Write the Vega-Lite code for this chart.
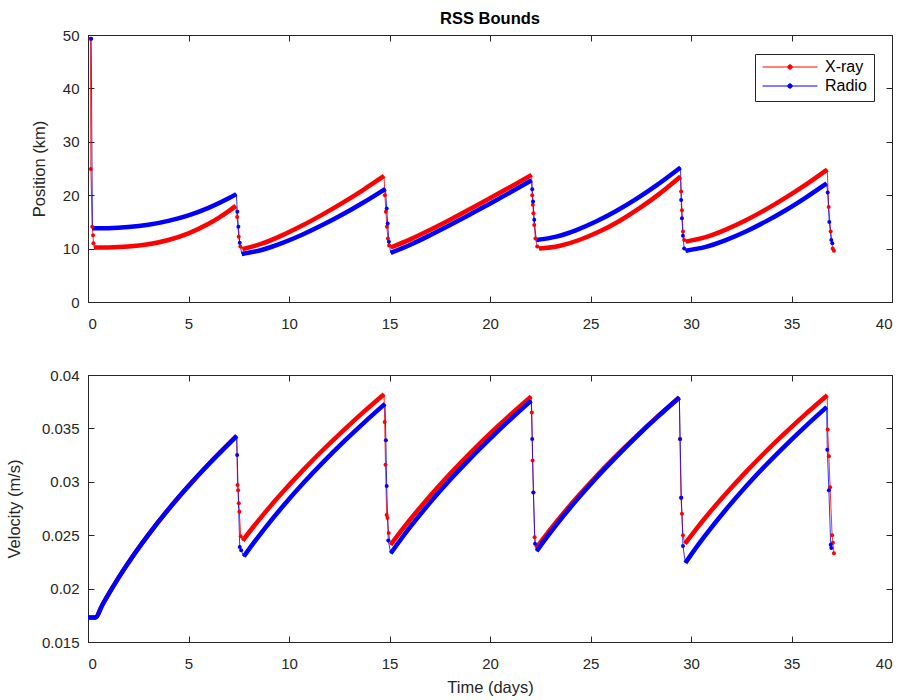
{
  "$schema": "https://vega.github.io/schema/vega-lite/v6.json",
  "padding": {"left": 5, "top": 10, "right": 5, "bottom": 5},
  "spacing": 35,
  "config": {
    "font": "Liberation Sans",
    "view": {"stroke": "#262626", "strokeWidth": 1},
    "axis": {
      "grid": false,
      "domainColor": "#262626",
      "tickColor": "#262626",
      "labelColor": "#262626",
      "titleColor": "#262626",
      "labelFont": "Liberation Sans",
      "titleFont": "Liberation Sans",
      "labelFontSize": 15,
      "titleFontSize": 16.5,
      "titleFontWeight": "normal",
      "tickSize": -6,
      "labelPadding": 15
    },
    "axisX": {"labelPadding": 20, "titlePadding": 8},
    "title": {"font": "Liberation Sans", "fontSize": 16.5, "fontWeight": "bold", "color": "#000000", "frame": "group", "anchor": "middle", "offset": 1}
  },
  "resolve": {"scale": {"color": "independent"}, "legend": {"color": "independent"}},
  "datasets": {
    "position": [
      {"s": "X-ray", "k": "drop", "g": 0, "t": 0.12, "v": 49.3},
      {"s": "X-ray", "k": "drop", "g": 0, "t": 0.14, "v": 24.9},
      {"s": "X-ray", "k": "drop", "g": 0, "t": 0.21, "v": 14.1},
      {"s": "X-ray", "k": "drop", "g": 0, "t": 0.25, "v": 12.5},
      {"s": "X-ray", "k": "drop", "g": 0, "t": 0.27, "v": 11.0},
      {"s": "X-ray", "k": "arc", "g": 1, "t": 0.3, "v": 10.2},
      {"s": "X-ray", "k": "arc", "g": 1, "t": 1, "v": 10.22},
      {"s": "X-ray", "k": "arc", "g": 1, "t": 2, "v": 10.38},
      {"s": "X-ray", "k": "arc", "g": 1, "t": 3, "v": 10.81},
      {"s": "X-ray", "k": "arc", "g": 1, "t": 4, "v": 11.61},
      {"s": "X-ray", "k": "arc", "g": 1, "t": 5, "v": 12.86},
      {"s": "X-ray", "k": "arc", "g": 1, "t": 6, "v": 14.64},
      {"s": "X-ray", "k": "arc", "g": 1, "t": 6.5, "v": 15.75},
      {"s": "X-ray", "k": "arc", "g": 1, "t": 7, "v": 17.01},
      {"s": "X-ray", "k": "arc", "g": 1, "t": 7.35, "v": 18.0},
      {"s": "X-ray", "k": "drop", "g": 0, "t": 7.42, "v": 15.9},
      {"s": "X-ray", "k": "drop", "g": 0, "t": 7.5, "v": 12.2},
      {"s": "X-ray", "k": "drop", "g": 0, "t": 7.58, "v": 10.4},
      {"s": "X-ray", "k": "arc", "g": 2, "t": 7.68, "v": 9.9},
      {"s": "X-ray", "k": "arc", "g": 2, "t": 8.68, "v": 10.96},
      {"s": "X-ray", "k": "arc", "g": 2, "t": 9.68, "v": 12.52},
      {"s": "X-ray", "k": "arc", "g": 2, "t": 10.68, "v": 14.36},
      {"s": "X-ray", "k": "arc", "g": 2, "t": 11.68, "v": 16.41},
      {"s": "X-ray", "k": "arc", "g": 2, "t": 12.68, "v": 18.61},
      {"s": "X-ray", "k": "arc", "g": 2, "t": 13.68, "v": 20.97},
      {"s": "X-ray", "k": "arc", "g": 2, "t": 14.73, "v": 23.6},
      {"s": "X-ray", "k": "drop", "g": 0, "t": 14.77, "v": 20.0},
      {"s": "X-ray", "k": "drop", "g": 0, "t": 14.82, "v": 16.9},
      {"s": "X-ray", "k": "drop", "g": 0, "t": 14.87, "v": 14.1},
      {"s": "X-ray", "k": "drop", "g": 0, "t": 14.92, "v": 11.9},
      {"s": "X-ray", "k": "drop", "g": 0, "t": 14.98, "v": 10.6},
      {"s": "X-ray", "k": "arc", "g": 3, "t": 15.06, "v": 10.2},
      {"s": "X-ray", "k": "arc", "g": 3, "t": 16.06, "v": 11.77},
      {"s": "X-ray", "k": "arc", "g": 3, "t": 17.06, "v": 13.59},
      {"s": "X-ray", "k": "arc", "g": 3, "t": 18.06, "v": 15.51},
      {"s": "X-ray", "k": "arc", "g": 3, "t": 19.06, "v": 17.51},
      {"s": "X-ray", "k": "arc", "g": 3, "t": 20.06, "v": 19.55},
      {"s": "X-ray", "k": "arc", "g": 3, "t": 21.06, "v": 21.64},
      {"s": "X-ray", "k": "arc", "g": 3, "t": 22.07, "v": 23.8},
      {"s": "X-ray", "k": "drop", "g": 0, "t": 22.1, "v": 20.0},
      {"s": "X-ray", "k": "drop", "g": 0, "t": 22.13, "v": 18.2},
      {"s": "X-ray", "k": "drop", "g": 0, "t": 22.16, "v": 16.6},
      {"s": "X-ray", "k": "drop", "g": 0, "t": 22.2, "v": 14.4},
      {"s": "X-ray", "k": "drop", "g": 0, "t": 22.26, "v": 11.9},
      {"s": "X-ray", "k": "drop", "g": 0, "t": 22.35, "v": 10.4},
      {"s": "X-ray", "k": "arc", "g": 4, "t": 22.44, "v": 10.0},
      {"s": "X-ray", "k": "arc", "g": 4, "t": 23.44, "v": 10.5},
      {"s": "X-ray", "k": "arc", "g": 4, "t": 24.44, "v": 11.61},
      {"s": "X-ray", "k": "arc", "g": 4, "t": 25.44, "v": 13.19},
      {"s": "X-ray", "k": "arc", "g": 4, "t": 26.44, "v": 15.18},
      {"s": "X-ray", "k": "arc", "g": 4, "t": 27.44, "v": 17.56},
      {"s": "X-ray", "k": "arc", "g": 4, "t": 28.44, "v": 20.29},
      {"s": "X-ray", "k": "arc", "g": 4, "t": 29.48, "v": 23.5},
      {"s": "X-ray", "k": "drop", "g": 0, "t": 29.51, "v": 20.7},
      {"s": "X-ray", "k": "drop", "g": 0, "t": 29.55, "v": 17.2},
      {"s": "X-ray", "k": "drop", "g": 0, "t": 29.6, "v": 13.2},
      {"s": "X-ray", "k": "drop", "g": 0, "t": 29.66, "v": 11.6},
      {"s": "X-ray", "k": "arc", "g": 5, "t": 29.73, "v": 11.3},
      {"s": "X-ray", "k": "arc", "g": 5, "t": 30.73, "v": 12.14},
      {"s": "X-ray", "k": "arc", "g": 5, "t": 31.73, "v": 13.56},
      {"s": "X-ray", "k": "arc", "g": 5, "t": 32.73, "v": 15.31},
      {"s": "X-ray", "k": "arc", "g": 5, "t": 33.73, "v": 17.34},
      {"s": "X-ray", "k": "arc", "g": 5, "t": 34.73, "v": 19.59},
      {"s": "X-ray", "k": "arc", "g": 5, "t": 35.73, "v": 22.03},
      {"s": "X-ray", "k": "arc", "g": 5, "t": 36.78, "v": 24.8},
      {"s": "X-ray", "k": "drop", "g": 0, "t": 36.85, "v": 17.8},
      {"s": "X-ray", "k": "drop", "g": 0, "t": 36.95, "v": 13.2},
      {"s": "X-ray", "k": "drop", "g": 0, "t": 37.05, "v": 10.0},
      {"s": "X-ray", "k": "drop", "g": 0, "t": 37.11, "v": 9.6},

      {"s": "Radio", "k": "drop", "g": 0, "t": 0.16, "v": 49.3},
      {"s": "Radio", "k": "arc", "g": 1, "t": 0.22, "v": 13.8},
      {"s": "Radio", "k": "arc", "g": 1, "t": 1, "v": 13.83},
      {"s": "Radio", "k": "arc", "g": 1, "t": 2, "v": 14.03},
      {"s": "Radio", "k": "arc", "g": 1, "t": 3, "v": 14.46},
      {"s": "Radio", "k": "arc", "g": 1, "t": 4, "v": 15.19},
      {"s": "Radio", "k": "arc", "g": 1, "t": 5, "v": 16.23},
      {"s": "Radio", "k": "arc", "g": 1, "t": 6, "v": 17.63},
      {"s": "Radio", "k": "arc", "g": 1, "t": 7, "v": 19.42},
      {"s": "Radio", "k": "arc", "g": 1, "t": 7.38, "v": 20.2},
      {"s": "Radio", "k": "drop", "g": 0, "t": 7.43, "v": 16.9},
      {"s": "Radio", "k": "drop", "g": 0, "t": 7.48, "v": 14.1},
      {"s": "Radio", "k": "drop", "g": 0, "t": 7.55, "v": 11.1},
      {"s": "Radio", "k": "arc", "g": 2, "t": 7.65, "v": 9.0},
      {"s": "Radio", "k": "arc", "g": 2, "t": 8.68, "v": 9.79},
      {"s": "Radio", "k": "arc", "g": 2, "t": 9.68, "v": 11.07},
      {"s": "Radio", "k": "arc", "g": 2, "t": 10.68, "v": 12.64},
      {"s": "Radio", "k": "arc", "g": 2, "t": 11.68, "v": 14.45},
      {"s": "Radio", "k": "arc", "g": 2, "t": 12.68, "v": 16.43},
      {"s": "Radio", "k": "arc", "g": 2, "t": 13.68, "v": 18.59},
      {"s": "Radio", "k": "arc", "g": 2, "t": 14.8, "v": 21.2},
      {"s": "Radio", "k": "drop", "g": 0, "t": 14.86, "v": 17.5},
      {"s": "Radio", "k": "drop", "g": 0, "t": 14.91, "v": 14.7},
      {"s": "Radio", "k": "drop", "g": 0, "t": 14.97, "v": 11.3},
      {"s": "Radio", "k": "arc", "g": 3, "t": 15.06, "v": 9.2},
      {"s": "Radio", "k": "arc", "g": 3, "t": 16.06, "v": 10.77},
      {"s": "Radio", "k": "arc", "g": 3, "t": 17.06, "v": 12.59},
      {"s": "Radio", "k": "arc", "g": 3, "t": 18.06, "v": 14.51},
      {"s": "Radio", "k": "arc", "g": 3, "t": 19.06, "v": 16.51},
      {"s": "Radio", "k": "arc", "g": 3, "t": 20.06, "v": 18.55},
      {"s": "Radio", "k": "arc", "g": 3, "t": 21.06, "v": 20.64},
      {"s": "Radio", "k": "arc", "g": 3, "t": 22.07, "v": 22.8},
      {"s": "Radio", "k": "drop", "g": 0, "t": 22.1, "v": 21.1},
      {"s": "Radio", "k": "drop", "g": 0, "t": 22.14, "v": 18.8},
      {"s": "Radio", "k": "drop", "g": 0, "t": 22.2, "v": 15.4},
      {"s": "Radio", "k": "arc", "g": 4, "t": 22.3, "v": 11.6},
      {"s": "Radio", "k": "arc", "g": 4, "t": 23.3, "v": 12.24},
      {"s": "Radio", "k": "arc", "g": 4, "t": 24.3, "v": 13.47},
      {"s": "Radio", "k": "arc", "g": 4, "t": 25.3, "v": 15.11},
      {"s": "Radio", "k": "arc", "g": 4, "t": 26.3, "v": 17.09},
      {"s": "Radio", "k": "arc", "g": 4, "t": 27.3, "v": 19.36},
      {"s": "Radio", "k": "arc", "g": 4, "t": 28.3, "v": 21.9},
      {"s": "Radio", "k": "arc", "g": 4, "t": 29.48, "v": 25.2},
      {"s": "Radio", "k": "drop", "g": 0, "t": 29.51, "v": 19.1},
      {"s": "Radio", "k": "drop", "g": 0, "t": 29.55, "v": 15.7},
      {"s": "Radio", "k": "drop", "g": 0, "t": 29.6, "v": 12.4},
      {"s": "Radio", "k": "drop", "g": 0, "t": 29.66, "v": 10.0},
      {"s": "Radio", "k": "arc", "g": 5, "t": 29.73, "v": 9.6},
      {"s": "Radio", "k": "arc", "g": 5, "t": 30.73, "v": 10.31},
      {"s": "Radio", "k": "arc", "g": 5, "t": 31.73, "v": 11.58},
      {"s": "Radio", "k": "arc", "g": 5, "t": 32.73, "v": 13.19},
      {"s": "Radio", "k": "arc", "g": 5, "t": 33.73, "v": 15.1},
      {"s": "Radio", "k": "arc", "g": 5, "t": 34.73, "v": 17.23},
      {"s": "Radio", "k": "arc", "g": 5, "t": 35.73, "v": 19.6},
      {"s": "Radio", "k": "arc", "g": 5, "t": 36.75, "v": 22.2},
      {"s": "Radio", "k": "drop", "g": 0, "t": 36.8, "v": 20.5},
      {"s": "Radio", "k": "drop", "g": 0, "t": 36.88, "v": 15.0},
      {"s": "Radio", "k": "drop", "g": 0, "t": 36.98, "v": 11.6},
      {"s": "Radio", "k": "drop", "g": 0, "t": 37.03, "v": 11.0}
    ],
    "velocity": [
      {"s": "X-ray", "k": "arc", "g": 1, "t": 0, "v": 0.0173},
      {"s": "X-ray", "k": "arc", "g": 1, "t": 0.2, "v": 0.0173},
      {"s": "X-ray", "k": "arc", "g": 1, "t": 0.38, "v": 0.0173},
      {"s": "X-ray", "k": "arc", "g": 1, "t": 0.7, "v": 0.01842},
      {"s": "X-ray", "k": "arc", "g": 1, "t": 1, "v": 0.01941},
      {"s": "X-ray", "k": "arc", "g": 1, "t": 1.5, "v": 0.02096},
      {"s": "X-ray", "k": "arc", "g": 1, "t": 2, "v": 0.0224},
      {"s": "X-ray", "k": "arc", "g": 1, "t": 3, "v": 0.02503},
      {"s": "X-ray", "k": "arc", "g": 1, "t": 4, "v": 0.02742},
      {"s": "X-ray", "k": "arc", "g": 1, "t": 5, "v": 0.02961},
      {"s": "X-ray", "k": "arc", "g": 1, "t": 6, "v": 0.03165},
      {"s": "X-ray", "k": "arc", "g": 1, "t": 7, "v": 0.03356},
      {"s": "X-ray", "k": "arc", "g": 1, "t": 7.4, "v": 0.0343},
      {"s": "X-ray", "k": "drop", "g": 0, "t": 7.44, "v": 0.0297},
      {"s": "X-ray", "k": "drop", "g": 0, "t": 7.47, "v": 0.0292},
      {"s": "X-ray", "k": "drop", "g": 0, "t": 7.5, "v": 0.028},
      {"s": "X-ray", "k": "drop", "g": 0, "t": 7.53, "v": 0.0272},
      {"s": "X-ray", "k": "drop", "g": 0, "t": 7.6, "v": 0.0249},
      {"s": "X-ray", "k": "arc", "g": 2, "t": 7.7, "v": 0.0245},
      {"s": "X-ray", "k": "arc", "g": 2, "t": 8.2, "v": 0.02572},
      {"s": "X-ray", "k": "arc", "g": 2, "t": 8.7, "v": 0.02688},
      {"s": "X-ray", "k": "arc", "g": 2, "t": 9.7, "v": 0.02906},
      {"s": "X-ray", "k": "arc", "g": 2, "t": 10.7, "v": 0.03109},
      {"s": "X-ray", "k": "arc", "g": 2, "t": 11.7, "v": 0.033},
      {"s": "X-ray", "k": "arc", "g": 2, "t": 12.7, "v": 0.0348},
      {"s": "X-ray", "k": "arc", "g": 2, "t": 13.7, "v": 0.03652},
      {"s": "X-ray", "k": "arc", "g": 2, "t": 14.73, "v": 0.0382},
      {"s": "X-ray", "k": "drop", "g": 0, "t": 14.76, "v": 0.0356},
      {"s": "X-ray", "k": "drop", "g": 0, "t": 14.8, "v": 0.0316},
      {"s": "X-ray", "k": "drop", "g": 0, "t": 14.86, "v": 0.0269},
      {"s": "X-ray", "k": "drop", "g": 0, "t": 14.9, "v": 0.0266},
      {"s": "X-ray", "k": "drop", "g": 0, "t": 14.96, "v": 0.0252},
      {"s": "X-ray", "k": "arc", "g": 3, "t": 15.06, "v": 0.0241},
      {"s": "X-ray", "k": "arc", "g": 3, "t": 15.56, "v": 0.02535},
      {"s": "X-ray", "k": "arc", "g": 3, "t": 16.06, "v": 0.02654},
      {"s": "X-ray", "k": "arc", "g": 3, "t": 17.06, "v": 0.02877},
      {"s": "X-ray", "k": "arc", "g": 3, "t": 18.06, "v": 0.03084},
      {"s": "X-ray", "k": "arc", "g": 3, "t": 19.06, "v": 0.03278},
      {"s": "X-ray", "k": "arc", "g": 3, "t": 20.06, "v": 0.03462},
      {"s": "X-ray", "k": "arc", "g": 3, "t": 21.06, "v": 0.03636},
      {"s": "X-ray", "k": "arc", "g": 3, "t": 22.05, "v": 0.038},
      {"s": "X-ray", "k": "drop", "g": 0, "t": 22.08, "v": 0.0365},
      {"s": "X-ray", "k": "drop", "g": 0, "t": 22.12, "v": 0.032},
      {"s": "X-ray", "k": "drop", "g": 0, "t": 22.16, "v": 0.029},
      {"s": "X-ray", "k": "drop", "g": 0, "t": 22.22, "v": 0.0248},
      {"s": "X-ray", "k": "arc", "g": 4, "t": 22.3, "v": 0.0238},
      {"s": "X-ray", "k": "arc", "g": 4, "t": 22.8, "v": 0.02505},
      {"s": "X-ray", "k": "arc", "g": 4, "t": 23.3, "v": 0.02624},
      {"s": "X-ray", "k": "arc", "g": 4, "t": 24.3, "v": 0.02848},
      {"s": "X-ray", "k": "arc", "g": 4, "t": 25.3, "v": 0.03055},
      {"s": "X-ray", "k": "arc", "g": 4, "t": 26.3, "v": 0.03248},
      {"s": "X-ray", "k": "arc", "g": 4, "t": 27.3, "v": 0.03431},
      {"s": "X-ray", "k": "arc", "g": 4, "t": 28.3, "v": 0.03605},
      {"s": "X-ray", "k": "arc", "g": 4, "t": 29.42, "v": 0.0379},
      {"s": "X-ray", "k": "drop", "g": 0, "t": 29.45, "v": 0.034},
      {"s": "X-ray", "k": "drop", "g": 0, "t": 29.5, "v": 0.0285},
      {"s": "X-ray", "k": "drop", "g": 0, "t": 29.55, "v": 0.027},
      {"s": "X-ray", "k": "drop", "g": 0, "t": 29.6, "v": 0.025},
      {"s": "X-ray", "k": "arc", "g": 5, "t": 29.7, "v": 0.0242},
      {"s": "X-ray", "k": "arc", "g": 5, "t": 30.2, "v": 0.02543},
      {"s": "X-ray", "k": "arc", "g": 5, "t": 30.7, "v": 0.02661},
      {"s": "X-ray", "k": "arc", "g": 5, "t": 31.7, "v": 0.02881},
      {"s": "X-ray", "k": "arc", "g": 5, "t": 32.7, "v": 0.03086},
      {"s": "X-ray", "k": "arc", "g": 5, "t": 33.7, "v": 0.03279},
      {"s": "X-ray", "k": "arc", "g": 5, "t": 34.7, "v": 0.0346},
      {"s": "X-ray", "k": "arc", "g": 5, "t": 35.7, "v": 0.03633},
      {"s": "X-ray", "k": "arc", "g": 5, "t": 36.78, "v": 0.0381},
      {"s": "X-ray", "k": "drop", "g": 0, "t": 36.8, "v": 0.0349},
      {"s": "X-ray", "k": "drop", "g": 0, "t": 36.86, "v": 0.0324},
      {"s": "X-ray", "k": "drop", "g": 0, "t": 36.92, "v": 0.0295},
      {"s": "X-ray", "k": "drop", "g": 0, "t": 37.02, "v": 0.025},
      {"s": "X-ray", "k": "drop", "g": 0, "t": 37.06, "v": 0.0243},
      {"s": "X-ray", "k": "drop", "g": 0, "t": 37.11, "v": 0.0233},

      {"s": "Radio", "k": "arc", "g": 1, "t": 0, "v": 0.0173},
      {"s": "Radio", "k": "arc", "g": 1, "t": 0.2, "v": 0.0173},
      {"s": "Radio", "k": "arc", "g": 1, "t": 0.38, "v": 0.0173},
      {"s": "Radio", "k": "arc", "g": 1, "t": 0.7, "v": 0.01842},
      {"s": "Radio", "k": "arc", "g": 1, "t": 1, "v": 0.01941},
      {"s": "Radio", "k": "arc", "g": 1, "t": 1.5, "v": 0.02096},
      {"s": "Radio", "k": "arc", "g": 1, "t": 2, "v": 0.0224},
      {"s": "Radio", "k": "arc", "g": 1, "t": 3, "v": 0.02503},
      {"s": "Radio", "k": "arc", "g": 1, "t": 4, "v": 0.02742},
      {"s": "Radio", "k": "arc", "g": 1, "t": 5, "v": 0.02961},
      {"s": "Radio", "k": "arc", "g": 1, "t": 6, "v": 0.03165},
      {"s": "Radio", "k": "arc", "g": 1, "t": 7, "v": 0.03356},
      {"s": "Radio", "k": "arc", "g": 1, "t": 7.4, "v": 0.0343},
      {"s": "Radio", "k": "drop", "g": 0, "t": 7.42, "v": 0.0325},
      {"s": "Radio", "k": "drop", "g": 0, "t": 7.55, "v": 0.0239},
      {"s": "Radio", "k": "drop", "g": 0, "t": 7.62, "v": 0.0236},
      {"s": "Radio", "k": "arc", "g": 2, "t": 7.75, "v": 0.023},
      {"s": "Radio", "k": "arc", "g": 2, "t": 8.25, "v": 0.0243},
      {"s": "Radio", "k": "arc", "g": 2, "t": 8.75, "v": 0.02553},
      {"s": "Radio", "k": "arc", "g": 2, "t": 9.75, "v": 0.02783},
      {"s": "Radio", "k": "arc", "g": 2, "t": 10.75, "v": 0.02995},
      {"s": "Radio", "k": "arc", "g": 2, "t": 11.75, "v": 0.03193},
      {"s": "Radio", "k": "arc", "g": 2, "t": 12.75, "v": 0.0338},
      {"s": "Radio", "k": "arc", "g": 2, "t": 13.75, "v": 0.03557},
      {"s": "Radio", "k": "arc", "g": 2, "t": 14.78, "v": 0.0373},
      {"s": "Radio", "k": "drop", "g": 0, "t": 14.82, "v": 0.0339},
      {"s": "Radio", "k": "drop", "g": 0, "t": 14.86, "v": 0.0296},
      {"s": "Radio", "k": "drop", "g": 0, "t": 14.94, "v": 0.0245},
      {"s": "Radio", "k": "arc", "g": 3, "t": 15.06, "v": 0.0233},
      {"s": "Radio", "k": "arc", "g": 3, "t": 15.56, "v": 0.0246},
      {"s": "Radio", "k": "arc", "g": 3, "t": 16.06, "v": 0.02584},
      {"s": "Radio", "k": "arc", "g": 3, "t": 17.06, "v": 0.02814},
      {"s": "Radio", "k": "arc", "g": 3, "t": 18.06, "v": 0.03028},
      {"s": "Radio", "k": "arc", "g": 3, "t": 19.06, "v": 0.03227},
      {"s": "Radio", "k": "arc", "g": 3, "t": 20.06, "v": 0.03414},
      {"s": "Radio", "k": "arc", "g": 3, "t": 21.06, "v": 0.03592},
      {"s": "Radio", "k": "arc", "g": 3, "t": 22.05, "v": 0.0376},
      {"s": "Radio", "k": "drop", "g": 0, "t": 22.1, "v": 0.034},
      {"s": "Radio", "k": "drop", "g": 0, "t": 22.16, "v": 0.029},
      {"s": "Radio", "k": "drop", "g": 0, "t": 22.24, "v": 0.0242},
      {"s": "Radio", "k": "arc", "g": 4, "t": 22.32, "v": 0.0235},
      {"s": "Radio", "k": "arc", "g": 4, "t": 22.82, "v": 0.02479},
      {"s": "Radio", "k": "arc", "g": 4, "t": 23.32, "v": 0.02602},
      {"s": "Radio", "k": "arc", "g": 4, "t": 24.32, "v": 0.02831},
      {"s": "Radio", "k": "arc", "g": 4, "t": 25.32, "v": 0.03043},
      {"s": "Radio", "k": "arc", "g": 4, "t": 26.32, "v": 0.03241},
      {"s": "Radio", "k": "arc", "g": 4, "t": 27.32, "v": 0.03428},
      {"s": "Radio", "k": "arc", "g": 4, "t": 28.32, "v": 0.03605},
      {"s": "Radio", "k": "arc", "g": 4, "t": 29.42, "v": 0.0379},
      {"s": "Radio", "k": "drop", "g": 0, "t": 29.46, "v": 0.034},
      {"s": "Radio", "k": "drop", "g": 0, "t": 29.52, "v": 0.0285},
      {"s": "Radio", "k": "drop", "g": 0, "t": 29.6, "v": 0.024},
      {"s": "Radio", "k": "arc", "g": 5, "t": 29.72, "v": 0.0224},
      {"s": "Radio", "k": "arc", "g": 5, "t": 30.22, "v": 0.02374},
      {"s": "Radio", "k": "arc", "g": 5, "t": 30.72, "v": 0.025},
      {"s": "Radio", "k": "arc", "g": 5, "t": 31.72, "v": 0.02736},
      {"s": "Radio", "k": "arc", "g": 5, "t": 32.72, "v": 0.02953},
      {"s": "Radio", "k": "arc", "g": 5, "t": 33.72, "v": 0.03155},
      {"s": "Radio", "k": "arc", "g": 5, "t": 34.72, "v": 0.03344},
      {"s": "Radio", "k": "arc", "g": 5, "t": 35.72, "v": 0.03524},
      {"s": "Radio", "k": "arc", "g": 5, "t": 36.75, "v": 0.037},
      {"s": "Radio", "k": "drop", "g": 0, "t": 36.78, "v": 0.033},
      {"s": "Radio", "k": "drop", "g": 0, "t": 36.86, "v": 0.0292},
      {"s": "Radio", "k": "drop", "g": 0, "t": 36.95, "v": 0.0241},
      {"s": "Radio", "k": "drop", "g": 0, "t": 36.98, "v": 0.0238}
    ]
  },
  "vconcat": [
    {
      "title": {"text": "RSS Bounds"},
      "width": 804,
      "height": 267,
      "data": {"name": "position"},
      "resolve": {"axis": {"x": "independent", "y": "independent"}},
      "layer": [
        {
          "encoding": {
            "x": {"field": "t", "type": "quantitative", "scale": {"domain": [0, 40], "nice": false},
                  "axis": {"values": [0, 5, 10, 15, 20, 25, 30, 35, 40], "title": null}},
            "y": {"field": "v", "type": "quantitative", "scale": {"domain": [0, 50], "nice": false},
                  "axis": {"values": [0, 10, 20, 30, 40, 50], "title": "Position (km)", "titlePadding": 15}},
            "color": {"field": "s", "type": "nominal",
                      "scale": {"domain": ["X-ray", "Radio"], "range": ["#ff0000", "#0000ff"]},
                      "legend": {
                        "title": null, "orient": "none", "legendX": 667, "legendY": 19,
                        "direction": "vertical",
                        "strokeColor": "#262626", "fillColor": "#ffffff",
                        "padding": 7,
                        "symbolType": "M-1,0L1,0M-0.08,0A0.08,0.08 0 1,0 0.08,0A0.08,0.08 0 1,0 -0.08,0Z",
                        "symbolSize": 3025, "symbolStrokeWidth": 1, "clipHeight": 12, "rowPadding": 3,
                        "labelFont": "Liberation Sans", "labelFontSize": 16, "labelColor": "#000000",
                        "labelOffset": 7,
                        "encode": {"symbols": {"update": {
                          "fill": {"signal": "datum.value === 'X-ray' ? '#ff0000' : '#0000ff'"},
                          "stroke": {"signal": "datum.value === 'X-ray' ? '#ff0000' : '#0000ff'"},
                          "opacity": {"value": 1}
                        }}}
                      }}
          },
          "layer": [
            {"mark": {"type": "line", "strokeWidth": 1, "opacity": 0.8}},
            {"transform": [{"filter": "datum.k === 'arc'"}],
             "mark": {"type": "line", "strokeWidth": 4.5, "interpolate": "monotone"},
             "encoding": {"detail": {"field": "g", "type": "nominal"}}},
            {"transform": [{"filter": "datum.k === 'drop'"}],
             "mark": {"type": "point", "filled": true, "size": 16, "opacity": 1}}
          ]
        },
        {
          "mark": {"type": "point", "opacity": 0},
          "encoding": {
            "x": {"field": "t", "type": "quantitative", "scale": {"domain": [0, 40], "nice": false},
                  "axis": {"orient": "top", "values": [0, 5, 10, 15, 20, 25, 30, 35, 40], "labels": false, "domain": false, "title": null}},
            "y": {"field": "v", "type": "quantitative", "scale": {"domain": [0, 50], "nice": false},
                  "axis": {"orient": "right", "values": [0, 10, 20, 30, 40, 50], "labels": false, "domain": false, "title": null}}
          }
        }
      ]
    },
    {
      "width": 804,
      "height": 267,
      "data": {"name": "velocity"},
      "resolve": {"axis": {"x": "independent", "y": "independent"}},
      "layer": [
        {
          "encoding": {
            "x": {"field": "t", "type": "quantitative", "scale": {"domain": [0, 40], "nice": false},
                  "axis": {"values": [0, 5, 10, 15, 20, 25, 30, 35, 40], "title": "Time (days)"}},
            "y": {"field": "v", "type": "quantitative", "scale": {"domain": [0.015, 0.04], "nice": false, "zero": false},
                  "axis": {"values": [0.015, 0.02, 0.025, 0.03, 0.035, 0.04], "format": "~g", "title": "Velocity (m/s)", "titlePadding": 19}},
            "color": {"field": "s", "type": "nominal",
                      "scale": {"domain": ["X-ray", "Radio"], "range": ["#ff0000", "#0000ff"]},
                      "legend": null}
          },
          "layer": [
            {"mark": {"type": "line", "strokeWidth": 1, "opacity": 0.8}},
            {"transform": [{"filter": "datum.k === 'arc'"}],
             "mark": {"type": "line", "strokeWidth": 4.5, "interpolate": "monotone"},
             "encoding": {"detail": {"field": "g", "type": "nominal"}}},
            {"transform": [{"filter": "datum.k === 'drop'"}],
             "mark": {"type": "point", "filled": true, "size": 16, "opacity": 1}}
          ]
        },
        {
          "mark": {"type": "point", "opacity": 0},
          "encoding": {
            "x": {"field": "t", "type": "quantitative", "scale": {"domain": [0, 40], "nice": false},
                  "axis": {"orient": "top", "values": [0, 5, 10, 15, 20, 25, 30, 35, 40], "labels": false, "domain": false, "title": null}},
            "y": {"field": "v", "type": "quantitative", "scale": {"domain": [0.015, 0.04], "nice": false, "zero": false},
                  "axis": {"orient": "right", "values": [0.015, 0.02, 0.025, 0.03, 0.035, 0.04], "labels": false, "domain": false, "title": null}}
          }
        }
      ]
    }
  ]
}
